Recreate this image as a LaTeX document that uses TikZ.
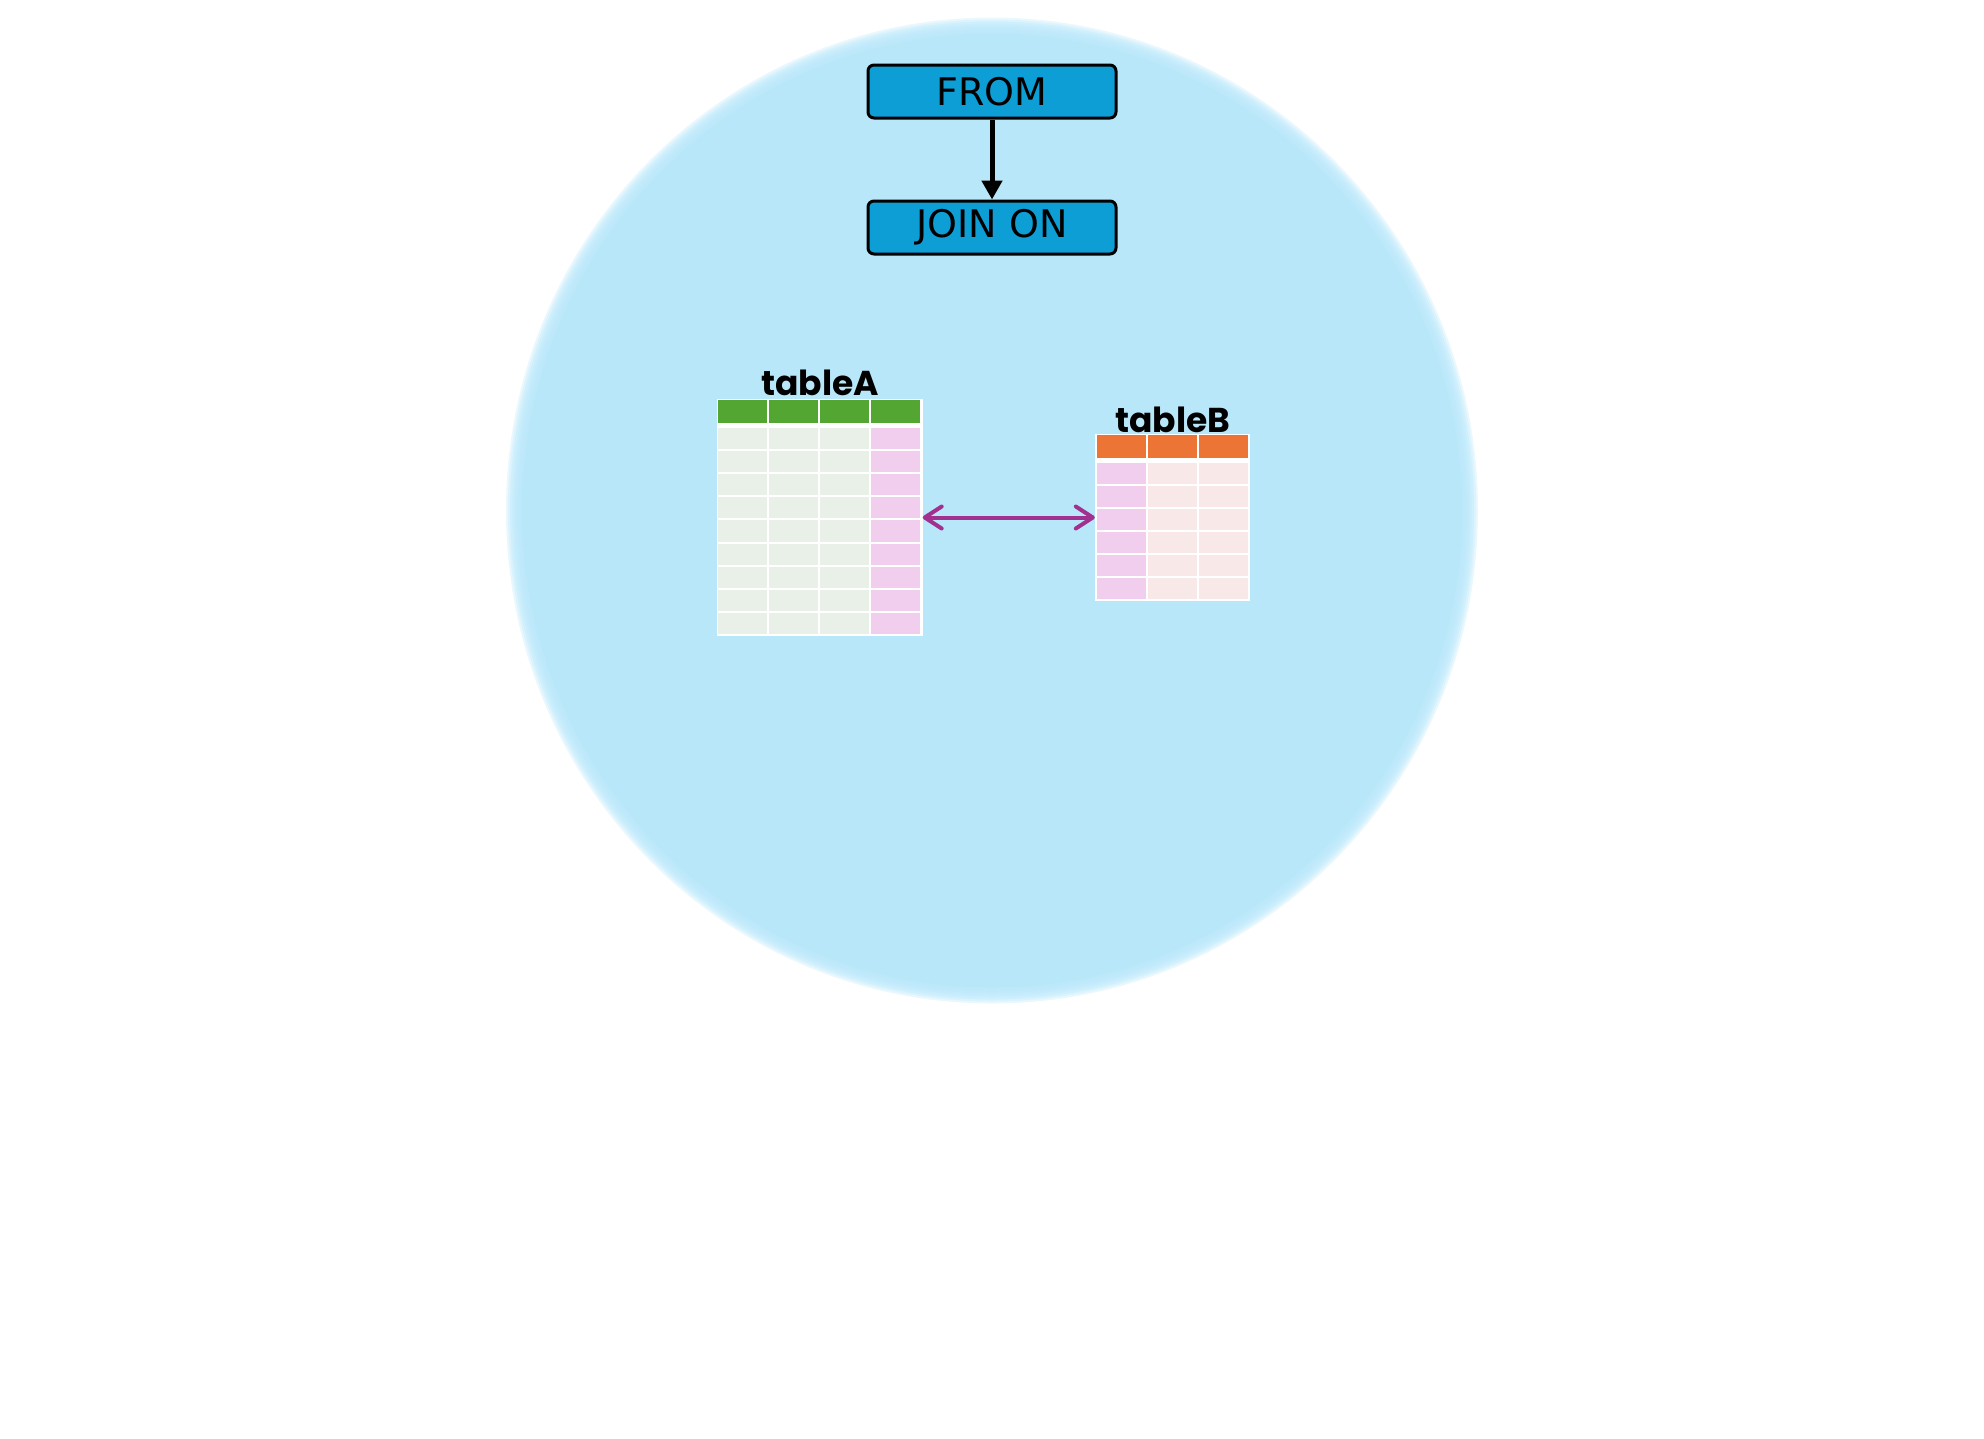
\documentclass[tikz,border=0pt]{standalone}
\usepackage{fontspec}
\setmainfont{DejaVu Sans}
\newfontfamily\popb{Poppins}
\usetikzlibrary{arrows.meta}
\definecolor{bgblue}{HTML}{B8E7FA}
\definecolor{boxblue}{HTML}{0E9ED6}
\definecolor{hgreen}{HTML}{52A631}
\definecolor{cgreen}{HTML}{E8F0E8}
\definecolor{cpink}{HTML}{F2CEEE}
\definecolor{horange}{HTML}{EC7434}
\definecolor{cpeach}{HTML}{F9E8E8}
\definecolor{jpurple}{HTML}{A2308F}
\tikzset{
  stepbox/.style={draw=black, line width=3pt, fill=boxblue, rounded corners=6pt,
    minimum width=248pt, minimum height=53pt, inner sep=0pt,
    font=\fontsize{38}{40}\selectfont},
  tlabel/.style={anchor=base, inner sep=0pt, font=\popb\bfseries\fontsize{34.5}{36}\selectfont},
  tframe/.style={fill=white, inner sep=0pt},
  flowarrow/.style={line width=5pt, -{Triangle[length=19pt,width=20pt]}},
  joinarrow/.style={jpurple, line width=4pt, line cap=round,
    {Straight Barb[length=17pt,width=22pt,line cap=round,line join=round]}-{Straight Barb[length=17pt,width=22pt,line cap=round,line join=round]}}
}
\begin{document}
\begin{tikzpicture}[x=1pt,y=-1pt]
\useasboundingbox (0,0) rectangle (1984,1438);
% soft-edged background circle
\fill[bgblue] (992,510.5) ellipse [x radius=470, y radius=477];
\foreach \k in {1,...,8}{
  \fill[bgblue, opacity=0.3] (992,510.5) ellipse [x radius=470+2*\k, y radius=477+2*\k];
}
% flow boxes
\node[stepbox] (from) at (992,91.5) {FROM};
\node[stepbox] (join) at (992,227.5) {JOIN ON};
\draw[flowarrow] (from.south) -- (join.north);
% table A
\node[tframe, minimum width=206pt, minimum height=237pt] (tA) at (819.5,517.5) {};
\foreach \c in {0,...,3}{
  \fill[hgreen] (717+\c*51+1,400) rectangle (717+\c*51+51-1,423);
  \foreach \r in {0,...,8}{
    \ifnum\c=3 \def\cc{cpink}\else\def\cc{cgreen}\fi
    \fill[\cc] (717+\c*51+1,427+\r*23.11+1) rectangle (717+\c*51+51-1,427+\r*23.11+23.11-1);
  }
}
\node[tlabel] (lA) at (820,395) {tableA};
% table B
\node[tframe, minimum width=155pt, minimum height=167pt] (tB) at (1172.5,517.5) {};
\foreach \c in {0,...,2}{
  \fill[horange] (1096+\c*51+1,435) rectangle (1096+\c*51+51-1,458);
  \foreach \r in {0,...,5}{
    \ifnum\c=0 \def\cc{cpink}\else\def\cc{cpeach}\fi
    \fill[\cc] (1096+\c*51+1,462+\r*23+1) rectangle (1096+\c*51+51-1,462+\r*23+23-1);
  }
}
\node[tlabel] (lB) at (1173,432) {tableB};
% join arrow
\draw[joinarrow] (tA.east) -- (tB.west);
\end{tikzpicture}
\end{document}
